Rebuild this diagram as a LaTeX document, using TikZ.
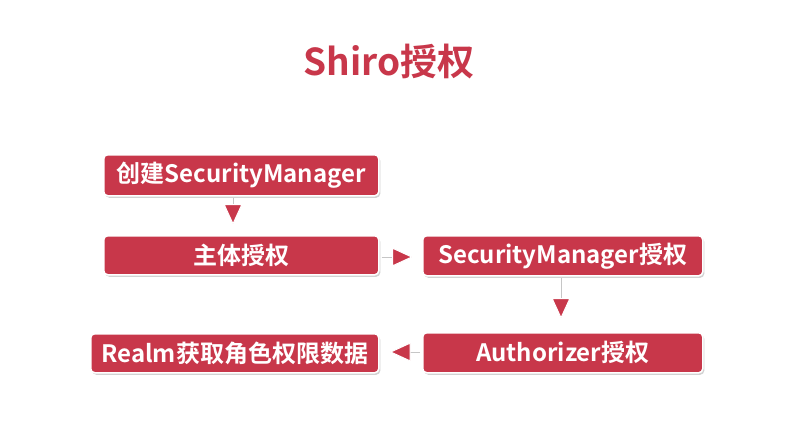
\documentclass[tikz,border=0pt]{standalone}
\usepackage{fontspec}
\newfontfamily\cjk{Noto Sans CJK SC}[BoldFont={Noto Sans CJK SC Bold}]
\usetikzlibrary{arrows.meta,shadows}
\definecolor{myred}{HTML}{C8374A}
\begin{document}
\begin{tikzpicture}[x=1pt,y=-1pt,
  box/.style={draw=white,line width=1.5pt,fill=myred,rounded corners=4pt,
    text=white,font=\cjk\bfseries\fontsize{24}{26}\selectfont,
    drop shadow={opacity=0.35,shadow xshift=1.5pt,shadow yshift=-2pt},
    anchor=north west,inner sep=0pt},
  conn/.style={line width=0.8pt,draw=gray!45,
    -{Triangle[length=21pt,width=19pt,fill=myred,color=white,line width=1pt]}}]
\useasboundingbox[fill=white] (0,0) rectangle (808,437);
\node[font=\cjk\bfseries\fontsize{37}{40}\selectfont,text=myred] (title) at (389,62) {Shiro授权};
\node[box,minimum width=275pt,minimum height=41pt] (b1) at (103,154) {创建SecurityManager};
\node[box,minimum width=275pt,minimum height=39pt] (b2) at (103,235) {主体授权};
\node[box,minimum width=280pt,minimum height=40pt] (b3) at (422,235) {SecurityManager授权};
\node[box,minimum width=280pt,minimum height=40pt] (b4) at (422,332) {Authorizer授权};
\node[box,minimum width=288pt,minimum height=39pt] (b5) at (90,333) {Realm获取角色权限数据};
\draw[conn,shorten <=1pt,shorten >=10pt] (b1.south -| 233,0) coordinate (c1) -- (c1 |- b2.north);
\draw[conn,shorten <=2pt,shorten >=9pt] (b2.east |- 0,257) -- (b3.west |- 0,257);
\draw[conn,shorten <=1pt,shorten >=13pt] (b3.south -| 561,0) coordinate (c3) -- (c3 |- b4.north);
\draw[conn,shorten <=2pt,shorten >=10pt] (b4.west |- 0,352) -- (b5.east |- 0,352);
\end{tikzpicture}
\end{document}
